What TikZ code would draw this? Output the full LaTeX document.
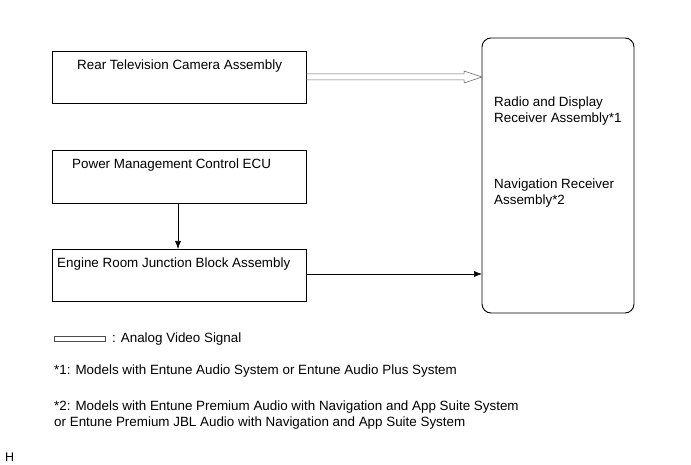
\documentclass[tikz,border=0pt]{standalone}
\usepackage{fontspec}
\setmainfont{Liberation Sans}
\usetikzlibrary{arrows.meta}
\begin{document}
\begin{tikzpicture}[x=1pt,y=-1pt,
  box/.style={draw,line width=0.9pt},
  lbl/.style={anchor=west,inner sep=0pt,font=\fontsize{13.4}{16}\selectfont},
  conn/.style={draw,line width=0.6pt,-{Latex[length=8pt,width=6pt]}}]
\useasboundingbox[fill=white] (0,0) rectangle (691,465);
\draw[box] (52,51) rectangle (306,103);
\draw[box] (52,150) rectangle (306,203);
\draw[box] (52,249) rectangle (306,301);
\draw[box,rounded corners=9pt] (482,38) rectangle (634,313);
\node[lbl] (t1) at (77,66) {Rear Television Camera Assembly};
\node[lbl] (t2) at (72,165) {Power Management Control ECU};
\node[lbl] (t3) at (57,264) {Engine Room Junction Block Assembly};
\node[lbl,align=left] (t4) at (494,111) {Radio and Display\\Receiver Assembly*1};
\node[lbl,align=left] (t5) at (494,193) {Navigation Receiver\\Assembly*2};
% hollow arrow
\draw[line width=0.5pt,draw=black!60] (306,74) -- (464,74) -- (464,71) -- (482,77) -- (464,83) -- (464,80) -- (306,80);
\coordinate (pm) at (178,203);
\coordinate (er) at (178,249);
\draw[conn] (pm) -- (er);
\coordinate (ero) at (306,274);
\coordinate (rx2) at (482,274);
\draw[conn] (ero) -- (rx2);
% legend
\draw[line width=0.6pt,draw=black!70] (54,336) rectangle (105,341);
\node[lbl] (lg) at (112,339) {: Analog Video Signal};
\node[lbl] (n1) at (54,371) {*1: Models with Entune Audio System or Entune Audio Plus System};
\node[lbl,align=left] (n2) at (54,415) {*2: Models with Entune Premium Audio with Navigation and App Suite System\\or Entune Premium JBL Audio with Navigation and App Suite System};
\node[lbl,font=\fontsize{12.5}{13}\selectfont] (h) at (5,457) {H};
\end{tikzpicture}
\end{document}
